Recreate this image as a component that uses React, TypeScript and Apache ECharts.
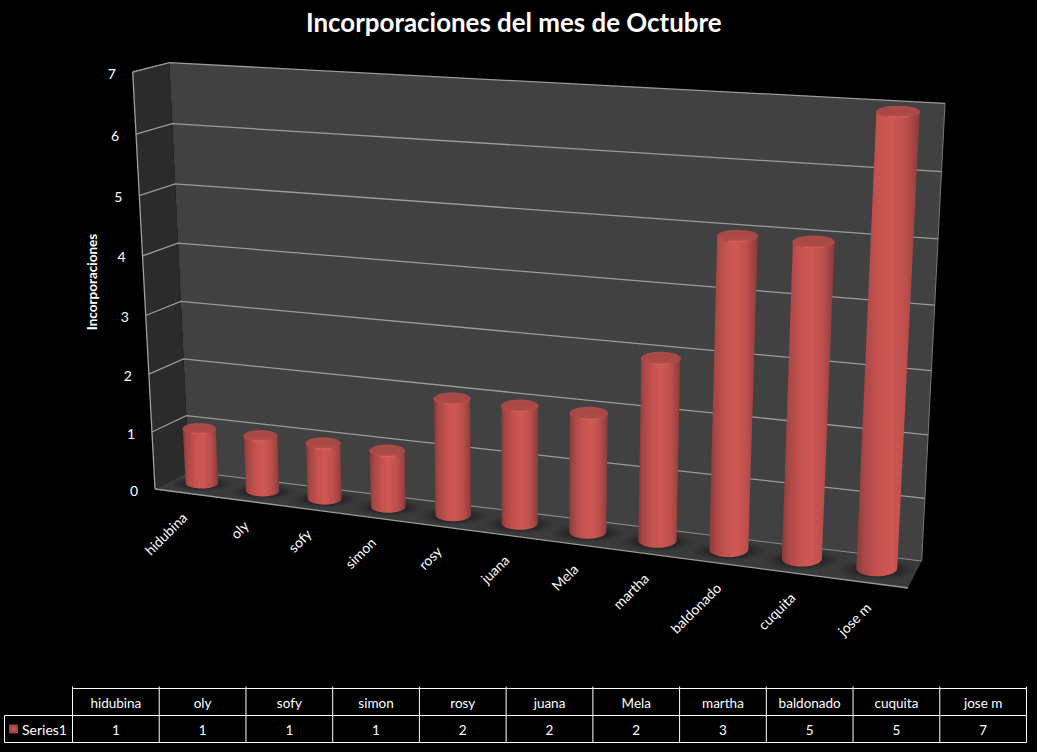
import React, { useEffect, useRef } from "react";
import * as echarts from "echarts";

const categories = ["hidubina", "oly", "sofy", "simon", "rosy", "juana", "Mela", "martha", "baldonado", "cuquita", "jose m"];
const seriesValues = [1, 1, 1, 1, 2, 2, 2, 3, 5, 5, 7];
const valueTicks = [0, 1, 2, 3, 4, 5, 6, 7];
const seriesName = "Series1";
const titleText = "Incorporaciones del mes de Octubre";
const axisName = "Incorporaciones";

const W = 1037;
const H = 752;
const FONT = "Lato, Carlito, 'Open Sans', sans-serif";
const GRID = { left: 150, top: 70, width: 760, height: 500 };

// Corners of the drawn 3D box, named [u][v][z]: u right, v up, z back
const C: Record<string, [number, number]> = {
  "000": [155, 489],
  "100": [908, 588],
  "010": [132.7, 72],
  "110": [932, 122],
  "001": [189, 471.5],
  "101": [921.7, 561],
  "011": [169.3, 62.7],
  "111": [945, 103.3],
};
const PERSP_U = -0.12;
const PERSP_V = -0.05;

function project(u: number, v: number, z: number): [number, number] {
  const t = (u * (1 + PERSP_U)) / (1 + PERSP_U * u);
  const s = (v * (1 + PERSP_V)) / (1 + PERSP_V * v);
  const out: [number, number] = [0, 0];
  for (const k of Object.keys(C)) {
    const w = (k[0] === "1" ? t : 1 - t) * (k[1] === "1" ? s : 1 - s) * (k[2] === "1" ? z : 1 - z);
    out[0] += w * C[k][0];
    out[1] += w * C[k][1];
  }
  return out;
}

function toUnit(p: number[]): [number, number] {
  return [(p[0] - GRID.left) / GRID.width, (GRID.top + GRID.height - p[1]) / GRID.height];
}

const RU = 0.27 / categories.length;
const RZ = 0.3;
const TOP_Z = 0.42;
const BASE_Z = 0.55;

// A circle on a level of the box, drawn as an upright ellipse as the reference does
function ring(uc: number, v: number, ru: number, rz: number, zc: number) {
  const cx = project(uc, v, 0.5)[0];
  const cy = project(uc, v, zc)[1];
  const a = (project(uc + ru, v, 0.5)[0] - project(uc - ru, v, 0.5)[0]) / 2;
  const b = (project(uc, v, zc - rz)[1] - project(uc, v, zc + rz)[1]) / 2;
  const pts: [number, number][] = [];
  for (let i = 0; i < 64; i++) {
    const t = (i / 64) * Math.PI * 2;
    pts.push([cx + a * Math.cos(t), cy + b * Math.sin(t)]);
  }
  return pts;
}

// from the rightmost point round the underside to the leftmost point
const lowerArc = (pts: [number, number][]) => [...pts.slice(0, 33)];

const bodyFill = {
  type: "linear",
  x: 0,
  y: 0,
  x2: 1,
  y2: 0,
  colorStops: [
    { offset: 0, color: "#873a39" },
    { offset: 0.12, color: "#a84745" },
    { offset: 0.35, color: "#c65350" },
    { offset: 0.55, color: "#cf5854" },
    { offset: 0.78, color: "#bb4f4c" },
    { offset: 0.92, color: "#9d4341" },
    { offset: 1, color: "#863938" },
  ],
};
const topFill = {
  type: "linear",
  x: 0,
  y: 0,
  x2: 0,
  y2: 1,
  colorStops: [
    { offset: 0, color: "#b04d4a" },
    { offset: 0.25, color: "#a64845" },
    { offset: 0.8, color: "#ac4a47" },
    { offset: 1, color: "#c8544f" },
  ],
};
const shadowFill = {
  type: "radial",
  x: 0.5,
  y: 0.5,
  r: 0.5,
  colorStops: [
    { offset: 0, color: "rgba(28,28,28,0.95)" },
    { offset: 0.55, color: "rgba(30,30,30,0.7)" },
    { offset: 1, color: "rgba(40,40,40,0)" },
  ],
};
const legendFill = {
  type: "radial",
  x: 0.5,
  y: 0.5,
  r: 0.7,
  colorStops: [
    { offset: 0, color: "#cb5a56" },
    { offset: 1, color: "#853a39" },
  ],
};

export default function App() {
  const ref = useRef<HTMLDivElement>(null);
  useEffect(() => {
    const chart = echarts.init(ref.current!, null, { renderer: "svg" });

    const boxItem = () => ({
      type: "group",
      silent: true,
      children: [
        {
          type: "polygon",
          shape: { points: [project(0, 0, 1), project(1, 0, 1), project(1, 1, 1), project(0, 1, 1)] },
          style: { fill: "#414141" },
        },
        {
          type: "polygon",
          shape: { points: [project(0, 0, 0), project(0, 0, 1), project(0, 1, 1), project(0, 1, 0)] },
          style: { fill: "#2b2b2b" },
        },
        {
          type: "polygon",
          shape: { points: [project(0, 0, 0), project(1, 0, 0), project(1, 0, 1), project(0, 0, 1)] },
          style: { fill: "#3a3a3a" },
        },
      ],
    });

    const gridItem = (_: any, api: any) => {
      const tick = api.value(0);
      const v = toUnit(api.coord([0, tick]))[1];
      const a = project(0, v, 0);
      const b = project(0, v, 1);
      const c = project(1, v, 1);
      const q = project(1, v, 0);
      const children: any[] = [
        {
          type: "polyline",
          shape: { points: tick === 0 ? [a, q] : [a, b, c] },
          style: { stroke: "#9a9a9a", lineWidth: 1.3, fill: "none" },
        },
        {
          type: "text",
          x: a[0] - 21,
          y: a[1] + 1,
          style: {
            text: String(tick),
            fill: "#ffffff",
            fontSize: 14,
            fontFamily: FONT,
            align: "center",
            verticalAlign: "middle",
          },
        },
      ];
      if (tick === 0) {
        children.push({
          type: "polyline",
          shape: { points: [b, c] },
          style: { stroke: "#8a8a8a", lineWidth: 1.2, fill: "none" },
        });
        children.push({
          type: "polyline",
          shape: { points: [a, project(0, 1, 0)] },
          style: { stroke: "#a0a0a0", lineWidth: 1.3, fill: "none" },
        });
        children.push({
          type: "polyline",
          shape: { points: [c, project(1, 1, 1)] },
          style: { stroke: "#777777", lineWidth: 1, fill: "none" },
        });
      }
      return { type: "group", silent: true, children };
    };

    const barItem = (_: any, api: any) => {
      const [uc, v] = toUnit(api.coord([api.value(0), api.value(1)]));
      const top = ring(uc, v, RU, RZ, TOP_Z);
      const bottom = ring(uc, 0, RU, RZ, BASE_Z);
      const topLow = lowerArc(top);
      const botLow = lowerArc(bottom);
      const body = [topLow[0], ...botLow, topLow[topLow.length - 1]];
      const highlight = topLow.slice(11, 22);
      return {
        type: "group",
        children: [
          {
            type: "polygon",
            shape: { points: ring(uc, 0, RU * 2, 0.42, 0.5) },
            style: { fill: shadowFill },
          },
          { type: "polygon", shape: { points: body }, style: { fill: bodyFill } },
          {
            type: "polygon",
            shape: { points: top },
            style: { fill: topFill, stroke: "#b04c49", lineWidth: 1 },
          },
          {
            type: "polyline",
            shape: { points: highlight },
            style: { stroke: "#e0645e", lineWidth: 1.2, fill: "none", opacity: 0.8 },
          },
        ],
      };
    };

    const labelItem = (_: any, api: any) => {
      const i = api.value(0);
      const uc = toUnit(api.coord([i, 0]))[0];
      const p = project(uc, 0, 0);
      return {
        type: "text",
        silent: true,
        x: p[0] - 1,
        y: p[1] + 22,
        rotation: Math.PI / 4,
        style: {
          text: categories[i],
          fill: "#ffffff",
          fontSize: 14,
          fontFamily: FONT,
          align: "right",
          verticalAlign: "middle",
        },
      };
    };

    const X0 = 72.5;
    const CW = (1026.5 - X0) / categories.length;
    const Y0 = 688.5;
    const Y1 = 715.5;
    const Y2 = 742.5;
    const cellText = (text: string, x: number, y: number) => ({
      type: "text",
      x,
      y,
      silent: true,
      style: { text, fill: "#ffffff", fontSize: 13.5, fontFamily: FONT, align: "center", verticalAlign: "middle" },
    });
    const line = (x1: number, y1: number, x2: number, y2: number) => ({
      type: "line",
      silent: true,
      shape: { x1, y1, x2, y2 },
      style: { stroke: "#ffffff", lineWidth: 1 },
    });
    const table: any[] = [
      line(X0, Y0, 1026.5, Y0),
      line(4.5, Y1, 1026.5, Y1),
      line(4.5, Y2, 1026.5, Y2),
      line(4.5, Y1, 4.5, Y2),
    ];
    for (let i = 0; i <= categories.length; i++) {
      table.push(line(X0 + i * CW, Y0 - 2, X0 + i * CW, Y2));
    }
    categories.forEach((c, i) => {
      table.push(cellText(c, X0 + (i + 0.5) * CW, (Y0 + Y1) / 2 + 0.5));
      table.push(cellText(String(seriesValues[i]), X0 + (i + 0.5) * CW, (Y1 + Y2) / 2 + 0.5));
    });

    chart.setOption({
      animation: false,
      backgroundColor: "#000000",
      title: {
        text: titleText,
        left: 306,
        top: 4,
        padding: [5, 0, 5, 0],
        textStyle: { color: "#ffffff", fontSize: 25.9, fontWeight: "bold", fontFamily: FONT },
      },
      legend: {
        data: [seriesName],
        left: 9,
        top: 722,
        padding: 0,
        icon: "rect",
        itemWidth: 9,
        itemHeight: 9,
        itemGap: 4,
        selectedMode: false,
        textStyle: { color: "#ffffff", fontSize: 14, fontFamily: FONT, padding: [0, 0, 0, -1] },
      },
      grid: GRID,
      xAxis: { type: "category", data: categories, show: false },
      yAxis: { type: "value", min: 0, max: 7, interval: 1, show: false },
      graphic: [
        {
          type: "text",
          x: 92,
          y: 282,
          rotation: Math.PI / 2,
          silent: true,
          style: {
            text: axisName,
            fill: "#ffffff",
            fontSize: 13.5,
            fontWeight: "bold",
            fontFamily: FONT,
            align: "center",
            verticalAlign: "middle",
          },
        },
        ...table,
      ],
      series: [
        { type: "custom", name: "box", silent: true, z: 1, renderItem: boxItem, data: [[0, 0]], encode: { x: 0, y: 1 } },
        {
          type: "custom",
          name: "ticks",
          silent: true,
          z: 2,
          renderItem: gridItem,
          data: valueTicks.map((t) => [t]),
          encode: { y: 0 },
        },
        {
          type: "custom",
          name: "labels",
          silent: true,
          z: 2,
          renderItem: labelItem,
          data: categories.map((_, i) => [i, 0]),
          encode: { x: 0, y: 1 },
        },
        {
          type: "custom",
          name: seriesName,
          z: 3,
          itemStyle: { color: legendFill },
          renderItem: barItem,
          data: seriesValues.map((v, i) => [i, v]),
          encode: { x: 0, y: 1 },
        },
      ],
    });
    return () => chart.dispose();
  }, []);
  return <div ref={ref} style={{ position: "fixed", left: 0, top: 0, width: W, height: H }} />;
}
